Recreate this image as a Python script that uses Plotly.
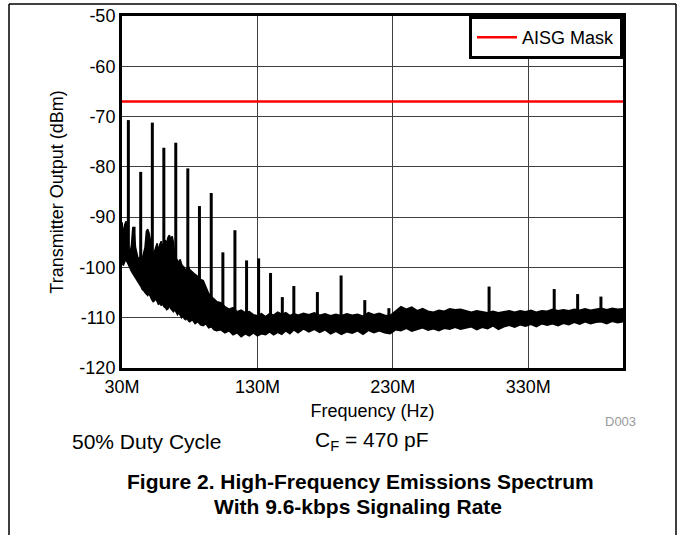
import plotly.graph_objects as go

# ---------------- data ----------------
# noise band envelope: frequency (MHz), upper edge (dBm), lower edge (dBm)
band_freq = [30, 31, 32, 33, 34, 35, 36, 37, 38, 39, 40, 41, 42, 43, 44, 45, 46, 47, 48, 49,
             50, 51, 52, 53, 54, 55, 56, 57, 58, 59, 60, 61, 62, 63, 64, 65, 66, 67, 68, 69,
             70, 71, 72, 73, 74, 75, 76, 77, 78, 79, 80, 82, 84, 86, 88, 90, 92, 94, 96, 98,
             100, 103, 106, 109, 112, 115, 118, 121, 124, 127, 130, 133, 136, 139, 142, 145,
             148, 151, 154, 157, 160, 164, 168, 172, 176, 180, 184, 188, 192, 196, 200, 204,
             208, 212, 216, 220, 224, 228, 232, 236, 240, 244, 248, 252, 256, 260, 264, 268,
             272, 276, 280, 284, 288, 292, 296, 300, 304, 308, 312, 316, 320, 324, 328, 332,
             336, 340, 344, 348, 352, 356, 360, 364, 368, 372, 376, 380, 384, 388, 392, 396,
             400]
band_upper = [-91.0, -93.5, -91.5, -90.8, -94.0, -96.5, -97.0, -95.5, -92.0, -93.0, -96.0, -97.0,
              -98.4, -98.0, -99.0, -98.2, -97.0, -96.0, -92.8, -92.4, -93.2, -94.6, -95.6, -97.4,
              -96.8, -96.0, -95.2, -96.8, -95.4, -94.8, -96.0, -95.0, -94.6, -95.2, -94.0, -93.6,
              -94.4, -93.8, -95.0, -97.8, -98.2, -98.6, -99.0, -98.4, -99.4, -99.8, -100.0,
              -100.6, -100.2, -99.8, -100.4, -101.0, -101.4, -101.8, -102.4, -102.6, -104.0,
              -105.2, -105.8, -106.4, -106.8,
              -107.0, -107.8, -108.3, -108.0, -108.8, -108.5, -109.0, -108.8, -109.4,
              -109.6, -109.2, -109.8, -109.2, -109.5, -108.9, -109.3, -109.0, -109.6, -109.2,
              -109.5, -109.1, -109.4, -109.0, -109.5, -109.2, -109.6, -109.3, -109.6, -109.2,
              -109.5, -109.3, -109.7, -109.0, -109.4, -109.1, -109.5, -109.6, -108.6, -107.8,
              -108.3, -107.9, -108.6, -108.2, -108.7, -108.9, -108.5, -108.7, -108.2, -108.4,
              -108.3, -108.6, -108.9, -108.6, -108.8, -109.0, -108.7, -109.0, -108.8, -108.6,
              -108.9, -108.6, -108.8, -108.5, -108.9, -108.6, -108.7, -108.3, -108.6, -108.4,
              -108.6, -108.3, -108.5, -108.2, -108.5, -108.3, -108.1, -108.4, -108.1, -108.3,
              -108.2]
band_lower = [-99.0, -99.6, -98.8, -98.6, -99.0, -99.8, -100.2, -100.8, -101.2, -101.6, -102.0,
              -102.4, -103.0, -103.4, -103.8, -104.4, -104.6, -105.0, -105.4, -105.6, -105.2,
              -106.0, -106.4, -106.8, -106.6, -106.2, -107.0, -107.4, -107.0, -107.6, -107.2,
              -107.8, -108.0, -108.4, -108.2, -107.6, -108.2, -108.6, -108.8, -108.4, -109.0,
              -109.4, -109.0, -109.6, -110.0, -109.6, -110.2, -110.4, -110.0, -110.6, -110.8,
              -110.4, -111.2, -110.8, -111.4, -111.6, -111.2, -112.0, -111.8, -112.4, -112.6,
              -112.4, -113.0, -112.6, -113.4, -113.0,
              -113.8, -113.2, -113.6, -113.0, -113.6, -113.2, -113.4, -112.8, -113.4, -112.9,
              -113.3, -112.6, -113.2, -112.4, -113.0, -112.2, -112.8, -112.3, -112.9, -112.4,
              -113.2, -112.7, -113.3, -112.8, -113.1, -112.6, -113.3, -112.5, -113.0, -112.6,
              -113.0, -113.2, -112.4, -112.6, -112.1, -112.7, -112.3, -112.0, -112.5, -112.2,
              -112.6, -112.1, -112.3, -111.9, -112.3, -112.0, -111.8, -112.4, -111.9, -112.2,
              -111.6, -112.3, -111.8, -111.5, -111.9, -111.4, -111.7, -111.3, -111.8, -111.2,
              -111.5, -111.2, -111.6, -111.1, -111.4, -110.9, -111.3, -110.8, -111.2, -110.9,
              -110.8, -111.2, -110.7, -111.0, -110.8]

# discrete spurs: frequency (MHz), peak level (dBm), level where the spur meets the floor (dBm)
spur_freq = [34.7, 38.9, 43.8, 52.4, 60.9, 69.7, 78.6, 87.2, 95.9, 104.5, 113.4, 122.0, 130.9,
             139.7, 148.4, 156.9, 174.3, 191.8, 209.3, 227.1, 301.1, 349.2, 366.5, 383.7]
spur_peak = [-70.7, -91.9, -81.0, -71.2, -76.2, -75.2, -80.3, -87.8, -85.2, -97.0, -92.6, -98.6,
             -98.2, -101.1, -105.9, -103.7, -104.9, -101.6, -106.5, -108.1, -103.8, -104.3,
             -105.3, -105.8]
spur_base = [-99.0, -101.0, -103.0, -106.0, -107.0, -108.0, -110.0, -110.5, -111.5, -112.0,
             -112.5, -112.5, -112.5, -112.5, -112.0, -112.0, -112.0, -112.0, -112.0, -112.0,
             -111.5, -111.0, -111.0, -110.5]

# AISG mask
mask_freq = [30, 400]
mask_level = [-67, -67]

x_tickvals = [30, 130, 230, 330]
x_ticktext = ["30M", "130M", "230M", "330M"]
y_tickvals = [-120, -110, -100, -90, -80, -70, -60, -50]
y_ticktext = ["-120", "-110", "-100", "-90", "-80", "-70", "-60", "-50"]

# ---------------- figure ----------------
FONT = "Arial, Liberation Sans, Helvetica, sans-serif"

spur_x, spur_y = [], []
for f, p, b in zip(spur_freq, spur_peak, spur_base):
    spur_x += [f, f, None]
    spur_y += [b, p, None]

fig = go.Figure()
fig.add_trace(go.Scatter(x=band_freq, y=band_lower, mode="lines",
                         line=dict(color="black", width=1.5), showlegend=False,
                         hoverinfo="skip"))
fig.add_trace(go.Scatter(x=band_freq, y=band_upper, mode="lines", fill="tonexty",
                         fillcolor="black", line=dict(color="black", width=1.5),
                         showlegend=False, hoverinfo="skip"))
fig.add_trace(go.Scatter(x=spur_x, y=spur_y, mode="lines",
                         line=dict(color="black", width=3), showlegend=False,
                         hoverinfo="skip"))
fig.add_trace(go.Scatter(x=mask_freq, y=mask_level, mode="lines", name="AISG Mask",
                         line=dict(color="#ff0000", width=2.5)))

FW, FH = 683, 535
L, T, W, H = 122, 16, 501, 352
fig.update_layout(
    width=FW, height=FH, autosize=False,
    margin=dict(l=L, r=FW - L - W, t=T, b=FH - T - H, pad=0),
    paper_bgcolor="white", plot_bgcolor="white",
    font=dict(family=FONT, size=18, color="black"),
    legend=dict(x=1, y=1, xanchor="right", yanchor="top", bgcolor="white",
                bordercolor="black", borderwidth=3, font=dict(size=18),
                itemwidth=40),
    xaxis=dict(range=[30, 400], tickvals=x_tickvals, ticktext=x_ticktext,
               showgrid=True, gridcolor="#404040", gridwidth=1, zeroline=False,
               showline=True, linecolor="black", linewidth=3, mirror=True, ticks="",
               automargin=False, ticklabeloverflow="allow",
               title=dict(text="Frequency (Hz)", standoff=9, font=dict(size=18))),
    yaxis=dict(range=[-120, -50], tickvals=y_tickvals, ticktext=y_ticktext, showgrid=True,
               gridcolor="#404040", gridwidth=1, zeroline=False,
               showline=True, linecolor="black", linewidth=3, mirror=True, ticks="",
               automargin=False, ticklabeloverflow="allow",
               title=dict(text="Transmitter Output (dBm)", standoff=12, font=dict(size=18))),
)

def px(xp):
    return (xp - L) / W

def py(yp):
    return (T + H - yp) / H

# outer frame of the figure
for x0, y0, x1, y1 in [(9, 4, 676, 4), (9, 4, 9, FH), (676, 4, 676, FH)]:
    fig.add_shape(type="line", xref="paper", yref="paper",
                  x0=px(x0), y0=py(y0), x1=px(x1), y1=py(y1),
                  line=dict(color="black", width=1.5))

def note(text, x, y, size, xanchor="center", color="black"):
    fig.add_annotation(text=text, xref="paper", yref="paper", x=px(x), y=py(y),
                       xanchor=xanchor, yanchor="middle", showarrow=False,
                       font=dict(size=size, color=color))

note("D003", 620, 421, 13, color="#9a9a9a")
note("50% Duty Cycle", 70, 441, 21, xanchor="left")
note("C<sub>F</sub> = 470 pF", 313, 441, 21, xanchor="left")
note("<b>Figure 2. High-Frequency Emissions Spectrum</b>", 360, 481, 21)
note("<b>With 9.6-kbps Signaling Rate</b>", 358, 506, 21)

# place the figure at the page's top-left corner (no default body margin), no modebar
fig.write_html("out.html", config={"displayModeBar": False},
               post_script="document.body.style.margin='0px';")
